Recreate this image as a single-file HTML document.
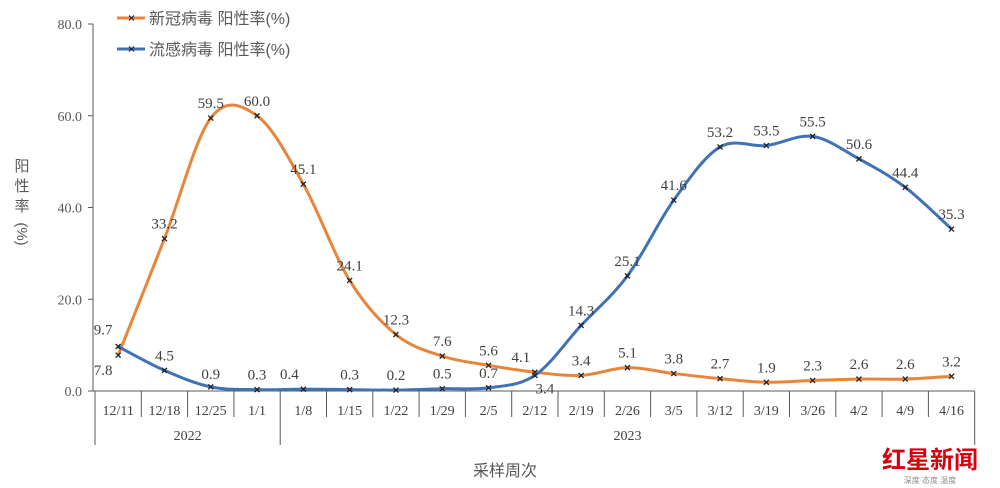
<!DOCTYPE html>
<html><head><meta charset="utf-8"><style>
body{margin:0;background:#fff;}
svg{display:block;font-family:"Liberation Serif","Noto Serif CJK SC",serif;}
.cn{font-family:"Liberation Sans","Noto Sans CJK SC",sans-serif;}
</style></head><body>
<svg id="chart" width="1000" height="488" viewBox="0 0 1000 488"></svg>
<script>
const categories=["12/11","12/18","12/25","1/1","1/8","1/15","1/22","1/29","2/5","2/12","2/19","2/26","3/5","3/12","3/19","3/26","4/2","4/9","4/16"];
const covidValues=[7.8,33.2,59.5,60.0,45.1,24.1,12.3,7.6,5.6,4.1,3.4,5.1,3.8,2.7,1.9,2.3,2.6,2.6,3.2];
const fluValues=[9.7,4.5,0.9,0.3,0.4,0.3,0.2,0.5,0.7,3.4,14.3,25.1,41.6,53.2,53.5,55.5,50.6,44.4,35.3];
const yTicks=[0,20,40,60,80];
const years=[{label:"2022",from:0,to:3},{label:"2023",from:4,to:18}];

const svg=document.getElementById('chart');
const NS='http://www.w3.org/2000/svg';
const x0=95,bw=46.3,yBase=391,yTop=24,yMax=80;
const X=i=>x0+bw*(i+0.5);
const Y=v=>yBase-(v/yMax)*(yBase-yTop);
function el(t,a,txt,parent){const e=document.createElementNS(NS,t);for(const k in a)e.setAttribute(k,a[k]);if(txt!=null)e.textContent=txt;(parent||svg).appendChild(e);return e;}

let ax=el('line',{x1:93,y1:yTop,x2:93,y2:yBase,stroke:'#595959','stroke-width':1});

yTicks.forEach(v=>{
  el('line',{x1:88,y1:Y(v),x2:93,y2:Y(v),stroke:'#595959'});
  const t=el('text',{x:82,y:Y(v)+5,'text-anchor':'end','font-size':14,fill:'#595959'},v.toFixed(1));
  
});
let xa=el('line',{x1:93,y1:yBase,x2:x0+bw*categories.length,y2:yBase,stroke:'#595959'});

for(let i=0;i<=categories.length;i++){
  const big=(i===0||i===4||i===categories.length);
  el('line',{x1:x0+bw*i,y1:yBase,x2:x0+bw*i,y2:big?445:417,stroke:'#595959'});
}
categories.forEach((c,i)=>{
  const t=el('text',{x:X(i),y:415,'text-anchor':'middle','font-size':14,fill:'#404040'},c);
  
});
years.forEach(yr=>{
  const t=el('text',{x:(X(yr.from)+X(yr.to))/2,y:440,'text-anchor':'middle','font-size':14,fill:'#404040'},yr.label);
  
});
let xt=el('text',{x:505,y:476,'text-anchor':'middle','font-size':16,fill:'#595959',class:'cn'},'采样周次');

const yg=el('g',{});

['阳','性','率'].forEach((ch,k)=>el('text',{x:22,y:171+k*20,'text-anchor':'middle','font-size':15,fill:'#595959',class:'cn'},ch,yg));
el('text',{x:0,y:0,'font-size':15,fill:'#595959',class:'cn',transform:'translate(17,234) rotate(90)','text-anchor':'middle'},'(%)',yg);

function smooth(vals){
  const p=vals.map((v,i)=>[X(i),Y(v)]);let d=`M${p[0][0]},${p[0][1]}`;
  for(let i=0;i<p.length-1;i++){
    const a=p[i-1]||p[i],b=p[i],c=p[i+1],e=p[i+2]||c,k=1/6;
    d+=` C${b[0]+(c[0]-a[0])*k},${b[1]+(c[1]-a[1])*k} ${c[0]-(e[0]-b[0])*k},${c[1]-(e[1]-b[1])*k} ${c[0]},${c[1]}`;
  }return d;
}
function series(vals,color,name,labelDy){
  const l=el('path',{d:smooth(vals),fill:'none',stroke:color,'stroke-width':3});
  
  vals.forEach((v,i)=>{
    const x=X(i),y=Y(v);
    const m=el('path',{d:`M${x-2.5},${y-2.5}L${x+2.5},${y+2.5}M${x-2.5},${y+2.5}L${x+2.5},${y-2.5}`,stroke:'#222','stroke-width':1.3});
    
    const dy=labelDy(i,v);
    const t=el('text',{x:x+dy[0],y:y+dy[1],'text-anchor':'middle','font-size':15,fill:'#404040'},v.toFixed(1));
    
  });
}
series(covidValues,'#e8853a','covid',(i)=>i===0?[-15,20]:(i===9?[-14,-10]:[0,-10]));
series(fluValues,'#3f72b5','flu',(i)=>i===0?[-15,-12]:(i===9?[10,18]:(i===4?[-14,-10]:(i===2?[0,-8]:[0,-10]))));

[['#e8853a','新冠病毒 阳性率(%)',18],['#3f72b5','流感病毒 阳性率(%)',49]].forEach(([c,txt,y],k)=>{
  const g=el('line',{x1:117,y1:y,x2:145,y2:y,stroke:c,'stroke-width':3});
  
  el('path',{d:`M129,${y-2.5}L134,${y+2.5}M129,${y+2.5}L134,${y-2.5}`,stroke:'#222','stroke-width':1.2});
  const t=el('text',{x:149,y:y+6,'font-size':16,fill:'#595959',class:'cn'},txt);
  
});
let lg=el('text',{x:930,y:468,'text-anchor':'middle','font-size':24,'font-weight':'bold',fill:'#d7000f',class:'cn'},'红星新闻');

el('text',{x:930,y:483,'text-anchor':'middle','font-size':8,fill:'#888',class:'cn'},'深度 态度 温度');
</script>
</body></html>
